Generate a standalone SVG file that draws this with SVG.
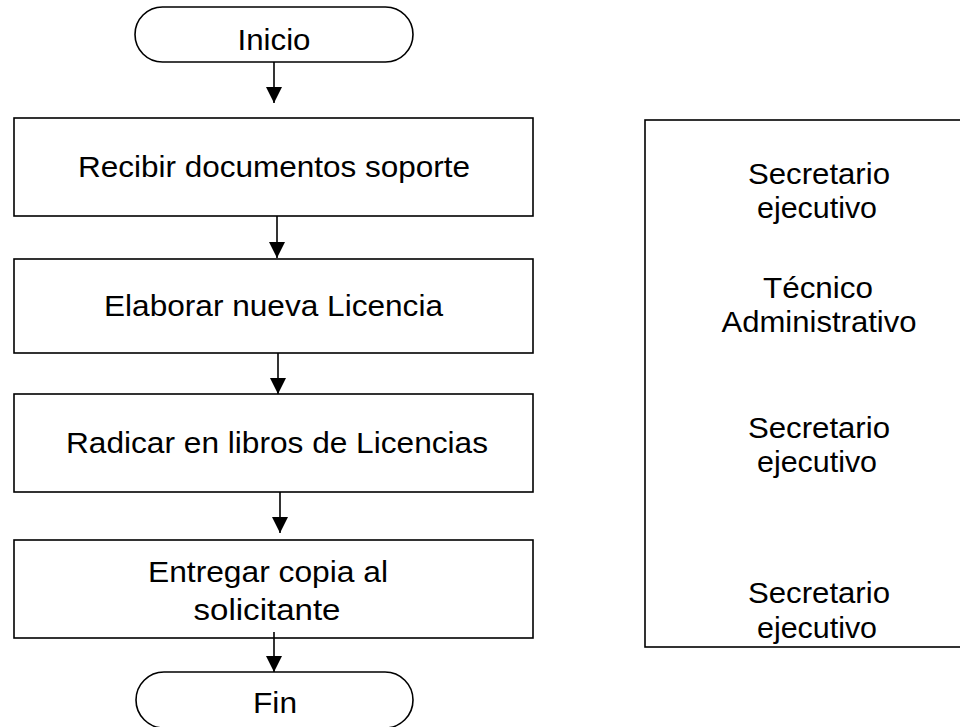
<svg xmlns="http://www.w3.org/2000/svg" width="960" height="727" viewBox="0 0 960 727">
<defs>
<style>
.box{fill:#fff;stroke:#000;stroke-width:1.6}
.t{font-family:"Liberation Sans",Arial,sans-serif;font-size:30px;fill:#000;text-anchor:middle}
.c{stroke:#000;stroke-width:1.6;fill:none}
</style>
<marker id="ah" markerUnits="userSpaceOnUse" markerWidth="18" markerHeight="16" refX="16" refY="8" orient="auto">
<path d="M0,0 L16,8 L0,16 Z" fill="#000"/>
</marker>
</defs>
<rect width="960" height="727" fill="#fff"/>
<g id="inicio">
<rect class="box" x="135" y="7" width="278" height="55" rx="27.5" ry="27.5"/>
<text class="t" x="274" y="50" textLength="73" lengthAdjust="spacingAndGlyphs">Inicio</text>
</g>
<g id="recibir">
<rect class="box" x="14" y="118" width="519" height="98"/>
<text class="t" x="274" y="177" textLength="392" lengthAdjust="spacingAndGlyphs">Recibir documentos soporte</text>
</g>
<g id="elaborar">
<rect class="box" x="14" y="259" width="519" height="94"/>
<text class="t" x="273.5" y="316" textLength="339" lengthAdjust="spacingAndGlyphs">Elaborar nueva Licencia</text>
</g>
<g id="radicar">
<rect class="box" x="14" y="394" width="519" height="98"/>
<text class="t" x="277" y="453" textLength="422" lengthAdjust="spacingAndGlyphs">Radicar en libros de Licencias</text>
</g>
<g id="entregar">
<rect class="box" x="14" y="540" width="519" height="98"/>
<text class="t" x="268" y="582" textLength="240" lengthAdjust="spacingAndGlyphs">Entregar copia al</text>
<text class="t" x="267" y="620" textLength="147" lengthAdjust="spacingAndGlyphs">solicitante</text>
</g>
<g id="fin">
<rect class="box" x="136" y="672" width="277" height="56" rx="28" ry="28"/>
<text class="t" x="275" y="713" textLength="44" lengthAdjust="spacingAndGlyphs">Fin</text>
</g>
<g id="responsables">
<rect class="box" x="645" y="120" width="320" height="527"/>
<text class="t" x="819" y="184" textLength="142" lengthAdjust="spacingAndGlyphs">Secretario</text>
<text class="t" x="817" y="218" textLength="120" lengthAdjust="spacingAndGlyphs">ejecutivo</text>
<text class="t" x="818" y="298" textLength="110" lengthAdjust="spacingAndGlyphs">Técnico</text>
<text class="t" x="819" y="332" textLength="195" lengthAdjust="spacingAndGlyphs">Administrativo</text>
<text class="t" x="819" y="438" textLength="142" lengthAdjust="spacingAndGlyphs">Secretario</text>
<text class="t" x="817" y="472" textLength="120" lengthAdjust="spacingAndGlyphs">ejecutivo</text>
<text class="t" x="819" y="603" textLength="142" lengthAdjust="spacingAndGlyphs">Secretario</text>
<text class="t" x="817" y="638" textLength="120" lengthAdjust="spacingAndGlyphs">ejecutivo</text>
</g>
<g id="connectors">
<line class="c" x1="274" y1="62" x2="274" y2="103" marker-end="url(#ah)"/>
<line class="c" x1="277" y1="216" x2="277" y2="258" marker-end="url(#ah)"/>
<line class="c" x1="278" y1="353" x2="278" y2="394" marker-end="url(#ah)"/>
<line class="c" x1="280" y1="492" x2="280" y2="533" marker-end="url(#ah)"/>
<line class="c" x1="274" y1="632" x2="274" y2="672" marker-end="url(#ah)"/>
</g>
</svg>
